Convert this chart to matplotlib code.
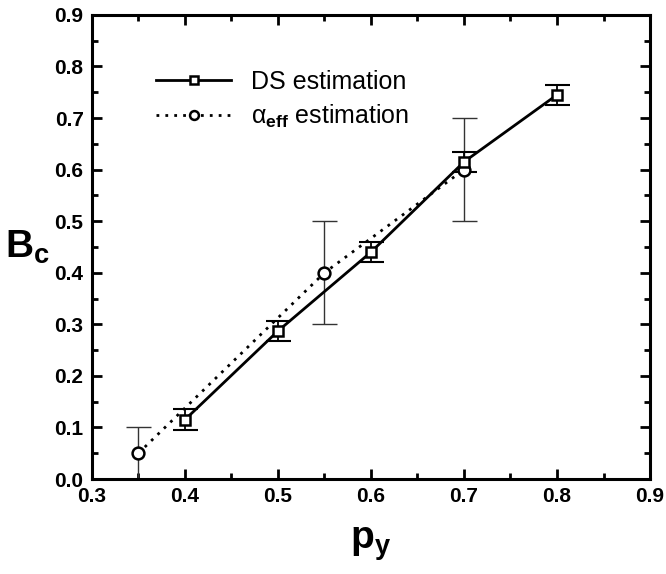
import matplotlib
matplotlib.use("Agg")
import matplotlib.pyplot as plt
from matplotlib.ticker import MultipleLocator, FormatStrFormatter

plt.rcParams['font.family'] = ['Liberation Sans', 'DejaVu Sans']
plt.rcParams['mathtext.fontset'] = 'custom'
plt.rcParams['mathtext.rm'] = 'Liberation Sans'
plt.rcParams['mathtext.it'] = 'Liberation Sans:italic'
plt.rcParams['mathtext.bf'] = 'Liberation Sans:bold'

ds_x = [0.4, 0.5, 0.6, 0.7, 0.8]
ds_y = [0.115, 0.287, 0.44, 0.615, 0.745]
ds_err = [0.02, 0.02, 0.02, 0.02, 0.02]

al_x = [0.35, 0.55, 0.7]
al_y = [0.05, 0.40, 0.60]
al_err = [0.05, 0.10, 0.10]

fig = plt.figure(figsize=(6.66, 5.74), dpi=100)
ax = fig.add_axes([0.138, 0.1655, 0.838, 0.8085])

ax.errorbar(al_x, al_y, yerr=al_err, fmt='none', ecolor='#333333', elinewidth=1.0,
            capsize=9, capthick=1.0, zorder=2)
ax.errorbar(ds_x, ds_y, yerr=ds_err, fmt='none', ecolor='black', elinewidth=1.3,
            capsize=9, capthick=1.5, zorder=2)
ax.plot(al_x, al_y, linestyle=(0, (1, 2.2)), color='black', lw=2.0, marker='o',
        ms=8.5, mfc='white', mec='black', mew=1.8,
        label=r'$\mathrm{\alpha}_{\mathbf{eff}}$ estimation', zorder=3)
ax.plot(ds_x, ds_y, linestyle='-', color='black', lw=2.0, marker='s',
        ms=7.5, mfc='white', mec='black', mew=1.8, label='DS estimation', zorder=4)

ax.set_xlim(0.3, 0.9)
ax.set_ylim(0.0, 0.9)
ax.xaxis.set_major_locator(MultipleLocator(0.1))
ax.xaxis.set_minor_locator(MultipleLocator(0.05))
ax.yaxis.set_major_locator(MultipleLocator(0.1))
ax.yaxis.set_minor_locator(MultipleLocator(0.05))
ax.xaxis.set_major_formatter(FormatStrFormatter('%.1f'))
ax.yaxis.set_major_formatter(FormatStrFormatter('%.1f'))
ax.tick_params(which='both', direction='in', top=True, right=True, width=2)
ax.tick_params(which='major', length=7, labelsize=15, pad=6)
ax.tick_params(which='minor', length=4)
for lab in ax.get_xticklabels() + ax.get_yticklabels():
    lab.set_fontweight('bold')
for s in ax.spines.values():
    s.set_linewidth(2.2)

ax.set_xlabel(r'$\mathbf{p_y}$', fontsize=28, labelpad=14)
ax.set_ylabel(r'$\mathbf{B_c}$', fontsize=28, rotation=0, labelpad=18)
ax.yaxis.set_label_coords(-0.115, 0.46)

h, l = ax.get_legend_handles_labels()
leg = ax.legend([h[1], h[0]], [l[1], l[0]], loc='upper left', bbox_to_anchor=(0.075, 0.93),
                frameon=False, fontsize=18, handlelength=3.0, handletextpad=0.8,
                labelspacing=0.35, markerscale=0.75)

fig.savefig('out.png', dpi=100)
